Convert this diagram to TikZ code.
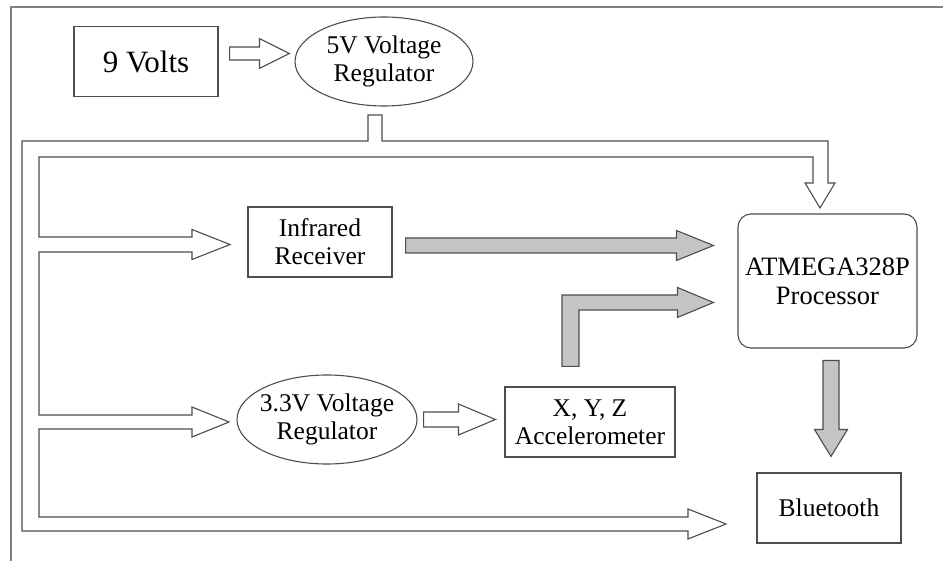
\documentclass[tikz,border=0pt]{standalone}
\usepackage{fontspec}
\setmainfont{Liberation Serif}
\usepackage{tikz}
\usetikzlibrary{calc,shapes.geometric}

\definecolor{lineGray}{HTML}{4D4D4D}
\definecolor{arrowGray}{HTML}{C4C4C4}

% block arrow: style, from, to, half shaft, half head, head length
\newcommand{\blockarrow}[6]{%
  \coordinate (ba-h) at ($(#3)!#6!(#2)$);
  \draw[#1] ($(#2)!#4!90:(#3)$) -- ($(ba-h)!#4!90:(#3)$) -- ($(ba-h)!#5!90:(#3)$) -- (#3)
    -- ($(ba-h)!#5!-90:(#3)$) -- ($(ba-h)!#4!-90:(#3)$) -- ($(#2)!#4!-90:(#3)$) -- cycle;}

\begin{document}
\begin{tikzpicture}[
  x=1pt, y=-1pt,
  every node/.style={draw=lineGray, line width=1.1pt, inner sep=0pt, align=center,
    font=\fontsize{25.5}{28}\selectfont},
  box/.style={rectangle, minimum width=144pt, minimum height=70pt},
  oval/.style={ellipse, inner sep=-6pt, minimum width=180pt, minimum height=89pt},
  hollow/.style={draw=lineGray, line width=1.1pt, fill=white, line join=miter},
  shade/.style={draw=lineGray, line width=1.1pt, fill=arrowGray, line join=miter}
]
\useasboundingbox (0,0) rectangle (943,561);
\draw[gray, line width=1.5pt] (11,561) -- (11,7) -- (943,7);

\node[box, font=\fontsize{31}{34}\selectfont] (volts) at (146,61.5) {9 Volts};
\node[oval, minimum width=178pt] (reg5) at (384,61.5) {5V Voltage\\Regulator};
\node[box] (ir) at (320,242) {Infrared\\Receiver};
\node[box, minimum width=179pt, minimum height=134pt, rounded corners=13pt,
  font=\fontsize{26.5}{29}\selectfont] (cpu) at (827.5,281) {ATMEGA328P\\Processor};
\node[oval] (reg33) at (327,419.5) {3.3V Voltage\\Regulator};
\node[box, minimum width=170pt] (acc) at (590,422) {X, Y, Z\\Accelerometer};
\node[box] (bt) at (829,508) {Bluetooth};

\draw[hollow] (368,115) -- (382,115) -- (382,141) -- (828,141) -- (828,183) -- (835,183) -- (820,208)
  -- (805,183) -- (813,183) -- (813,157) -- (39,157) -- (39,237) -- (192,237) -- (192,229.5)
  -- (230,244.5) -- (192,259.5) -- (192,252) -- (39,252) -- (39,415) -- (192,415) -- (192,407)
  -- (229,422) -- (192,437) -- (192,429) -- (39,429) -- (39,517) -- (688,517) -- (688,509)
  -- (726,524) -- (688,539) -- (688,531) -- (22,531) -- (22,141) -- (368,141) -- cycle;

\coordinate (v1) at ([shift={(11,-8)}]volts.east);
\coordinate (v2) at ($(reg5.west |- v1)+(-5,0)$);
\blockarrow{hollow}{v1}{v2}{6.5pt}{15pt}{30pt}

\coordinate (r1) at ([xshift=6pt]reg33.east);
\coordinate (r2) at ($(acc.west |- r1)+(-9,0)$);
\blockarrow{hollow}{r1}{r2}{7.5pt}{15.5pt}{37pt}

\coordinate (i1) at ([shift={(13,3.5)}]ir.east);
\coordinate (i2) at ($(cpu.west |- i1)+(-24,0)$);
\blockarrow{shade}{i1}{i2}{7.5pt}{15pt}{37pt}

\coordinate (c1) at ($(cpu.south)+(3.5,12)$);
\coordinate (c2) at ($(bt.north)+(2,-16)$);
\blockarrow{shade}{c1}{c2}{8pt}{16.5pt}{27pt}

\coordinate (l0) at ($(acc.north)+(-19.5,-20)$);
\coordinate (l1) at ($(cpu.west)+(-24,21.5)$);
\draw[shade] ($(l0)+(-8.5,0)$) |- ($(l1)+(-36,-7.5)$) -- ++(0,-7.5) -- (l1) -- ++(-36,15)
  -- ++(0,-7.5) -| ($(l0)+(8.5,0)$) -- cycle;
\end{tikzpicture}
\end{document}
